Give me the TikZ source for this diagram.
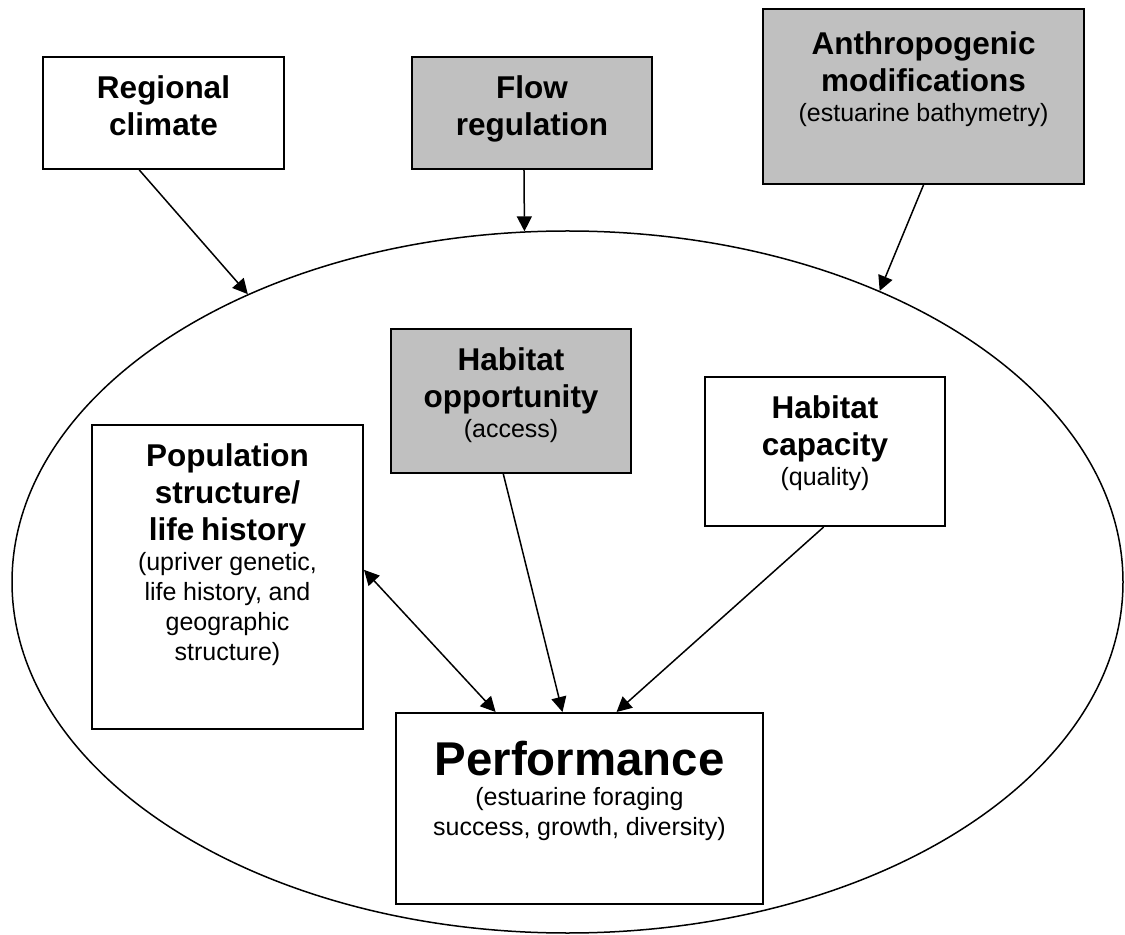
\documentclass[tikz,border=0pt]{standalone}
\usepackage{fontspec}
\setmainfont{Liberation Sans}
\usepackage{tikz}
\usetikzlibrary{arrows.meta,shapes.geometric}

\definecolor{boxgray}{HTML}{C0C0C0}
\newcommand{\boxtitle}{\fontsize{15.75}{18.5}\selectfont\bfseries}
\newcommand{\boxnote}{\fontsize{12.5}{15}\selectfont}
\newcommand{\bigtitle}{\fontsize{23.7}{27}\selectfont\bfseries}

\begin{document}
\begin{tikzpicture}[
  x=0.5pt, y=-0.5pt,
  box/.style={draw,line width=1pt,fill=white,anchor=north,align=center,
              inner sep=0pt,text height=21pt},
  grey/.style={box,fill=boxgray},
  arr/.style={-{Triangle[length=7.5pt,width=7.5pt]},line width=0.75pt},
  twoarr/.style={{Triangle[length=7.5pt,width=7.5pt]}-{Triangle[length=7.5pt,width=7.5pt]},
                 line width=0.75pt},
]
  \useasboundingbox (0,0) rectangle (1125,935);
  \node[draw,ellipse,line width=0.75pt,inner sep=0pt,
        minimum width=555.5pt,minimum height=351pt] (estuary) at (567.5,582) {};

  % outside drivers
  \node[box,text width=120.5pt,text depth=35pt] (clim) at (163.5,56)
    {{\boxtitle Regional\\climate\par}};
  \node[grey,text width=120pt,text depth=35pt] (flow) at (532,56)
    {{\boxtitle Flow\\regulation\par}};
  \node[grey,text width=160.5pt,text height=23pt,text depth=64.5pt] (anthro) at (923.5,8)
    {{\boxtitle Anthropogenic\\modifications\par}{\boxnote (estuarine bathymetry)\par}};

  % inside the estuary
  \node[grey,text width=120pt,text depth=51pt] (opp) at (511,328)
    {{\boxtitle Habitat\\opportunity\par}{\boxnote (access)\par}};
  \node[box,text width=120pt,text depth=53.5pt] (cap) at (825,376)
    {{\boxtitle Habitat\\capacity\par}{\boxnote (quality)\par}};
  \node[box,text width=135.5pt,text depth=131pt] (pop) at (227.5,424)
    {{\boxtitle Population\\structure/\\life history\par}%
     {\boxnote (upriver genetic,\\life history, and\\geographic\\structure)\par}};
  \node[box,text width=183.5pt,text height=31pt,text depth=64.5pt] (perf) at (579.5,712)
    {{\bigtitle Performance\par}{\boxnote (estuarine foraging\\success, growth, diversity)\par}};

  \draw[arr] (clim.-113) -- (estuary.138);
  \draw[arr] (flow.-98) -- (estuary.97);
  \draw[arr] (anthro.south) -- (estuary.43);
  \draw[arr] (opp.-96) -- (perf.100);
  \draw[arr] (cap.-91) -- (perf.69);
  \draw[twoarr] (pop.3) -- (perf.131);
\end{tikzpicture}
\end{document}
